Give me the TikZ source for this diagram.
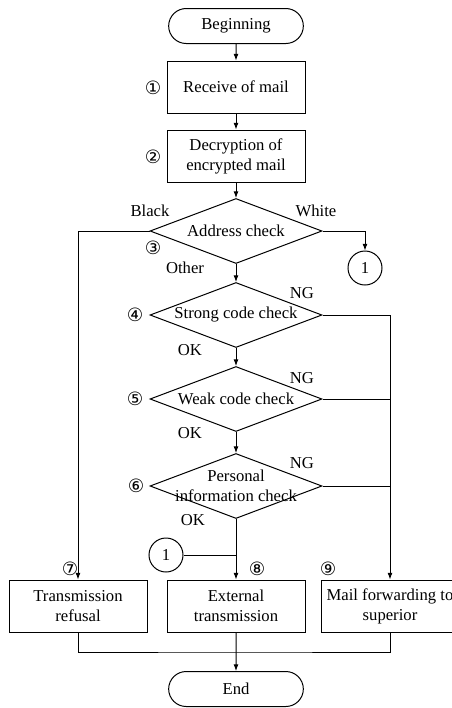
\documentclass[tikz,border=0pt]{standalone}
\usepackage{fontspec}
\setmainfont{Liberation Serif}
\newfontfamily\circfont{DejaVu Sans}
\usetikzlibrary{shapes.geometric,shapes.misc,arrows.meta}
\newcommand{\stepno}[1]{{\circfont\fontsize{11}{12}\selectfont #1}}
\begin{document}
\begin{tikzpicture}[x=0.6pt,y=-0.6pt,line width=0.6pt]
        %======definicao dos blocos==========%

            \tikzstyle{terminal}=[rounded rectangle,draw,minimum width=82.8pt,minimum height=21pt,inner sep=1pt]
            \tikzstyle{process}=[rectangle,draw,minimum width=82.8pt,minimum height=31.2pt,align=center,inner sep=1pt]
            \tikzstyle{decision}=[diamond,draw,minimum width=103.2pt,minimum height=39pt,inner sep=0pt]
            \tikzstyle{connector}=[circle,draw,minimum size=20.4pt,inner sep=0pt]
            \tikzstyle{edge}=[-{Latex[length=4pt,width=3pt]}]
            \tikzstyle{tag}=[inner sep=0pt]

        %====================%%=============%

            \useasboundingbox (0,0) rectangle (452,708);

            \node[terminal](begin) at (236,26) {Beginning};
            \node[process](recv) at (236,87) {Receive of mail};
            \node[process](decr) at (236,156) {Decryption of\\encrypted mail};
            \node[decision,label={center:Address check}](addr) at (236,231) {};
            \node[decision,label={center:Strong code check}](strong) at (236,315) {};
            \node[decision,label={center:Weak code check}](weak) at (236,399) {};
            \node[decision,label={[align=center,inner sep=0pt]center:Personal\\information check}](pers) at (236,486) {};
            \node[connector](jumpA) at (365,268) {1};
            \node[connector](jumpB) at (166,555) {1};
            \node[process](refuse) at (78,606) {Transmission\\refusal};
            \node[process](extern) at (236,606) {External\\transmission};
            \node[process,inner xsep=1pt](forward) at (390,606) {Mail forwarding to\\superior};
            \node[terminal](finish) at (236,689) {End};
            \coordinate (merge) at (236,652);

            % numeros dos passos
            \node[tag](n1) at (153,88) {\stepno{①}};
            \node[tag](n2) at (153,157) {\stepno{②}};
            \node[tag](n3) at (153,248) {\stepno{③}};
            \node[tag](n4) at (135,315) {\stepno{④}};
            \node[tag](n5) at (135,399) {\stepno{⑤}};
            \node[tag](n6) at (136,486) {\stepno{⑥}};
            \node[tag](n7) at (70,569) {\stepno{⑦}};
            \node[tag](n8) at (257,569) {\stepno{⑧}};
            \node[tag](n9) at (328,569) {\stepno{⑨}};

            % rotulos das saidas
            \node[tag](black) at (150,211) {Black};
            \node[tag](white) at (316,211) {White};
            \node[tag](other) at (185,268) {Other};
            \node[tag](ng1) at (302,293) {NG};
            \node[tag](ng2) at (302,378) {NG};
            \node[tag](ng3) at (302,463) {NG};
            \node[tag](ok1) at (190,350) {OK};
            \node[tag](ok2) at (190,433) {OK};
            \node[tag](ok3) at (193,520) {OK};

            \draw[edge](begin) -- (recv);
            \draw[edge](recv) -- (decr);
            \draw[edge](decr) -- (addr);
            \draw[edge](addr) -- (strong);
            \draw[edge](strong) -- (weak);
            \draw[edge](weak) -- (pers);
            \draw[edge](pers) -- (extern);
            \draw[edge](addr.west) -| (refuse.north);
            \draw[edge](addr.east) -| (jumpA.north);
            \draw[edge](strong.east) -| (forward.north);
            \draw(weak.east) -- (weak.east -| forward.north);
            \draw(pers.east) -- (pers.east -| forward.north);
            \draw(jumpB.east) -- (jumpB.east -| extern.north);
            \draw(refuse.south) |- (merge) -| (forward.south);
            \draw[edge](extern) -- (finish);
        \end{tikzpicture}
\end{document}
